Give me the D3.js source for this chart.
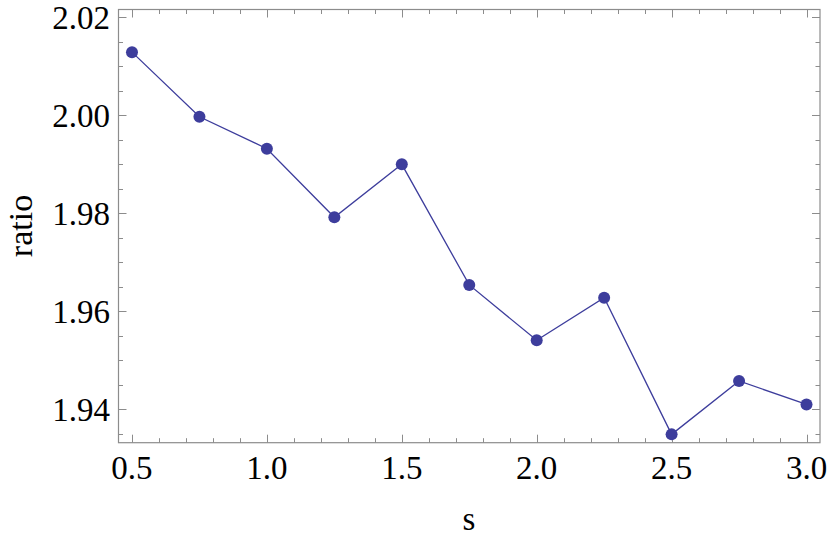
<!DOCTYPE html>
<html>
<head>
<meta charset="utf-8">
<script src="https://cdn.jsdelivr.net/npm/d3@7"></script>
<style>
  body { margin: 0; background: #fff; }
  text { font-family: "Liberation Serif", "Times New Roman", serif; }
</style>
</head>
<body>
<div id="chart"></div>
<script>
// data
const sValues = [0.5, 0.75, 1.0, 1.25, 1.5, 1.75, 2.0, 2.25, 2.5, 2.75, 3.0];
const ratioValues = [2.0129, 1.9997, 1.9932, 1.9792, 1.9900, 1.9654, 1.9541, 1.9628, 1.9349, 1.9458, 1.9410];
const xTicks = [0.5, 1.0, 1.5, 2.0, 2.5, 3.0];
const yTicks = [1.94, 1.96, 1.98, 2.00, 2.02];

const width = 830, height = 537;
const plotLeft = 118.5, plotRight = 820, plotTop = 9.5, plotBottom = 442.7;
const frameColor = "#8c8c8c";
const pointColor = "#3d3d9c";

let x = d3.scaleLinear().domain([0.45, 3.05]).range([plotLeft, plotRight]);
let y = d3.scaleLinear().domain([1.9332, 2.0216]).range([plotBottom, plotTop]);

let svg = d3.select("#chart")
    .append("svg")
    .attr("width", width)
    .attr("height", height);

// minor ticks
let xMinor = d3.range(0.5, 3.0001, 0.1).map(function(d){ return +d.toFixed(2); })
    .filter(function(d){ return xTicks.indexOf(d) < 0; });
let yMajorKeys = yTicks.map(function(t){ return t.toFixed(3); });
let yMinor = d3.range(1.935, 2.0201, 0.005).map(function(d){ return +d.toFixed(3); })
    .filter(function(d){ return yMajorKeys.indexOf(d.toFixed(3)) < 0; });

let ticks = svg.append("g")
    .attr("stroke", frameColor)
    .attr("stroke-width", 1);

function drawXTicks(vals, len) {
  vals.forEach(function(v) {
    let px = Math.round(x(v)) + 0.5;
    ticks.append("line").attr("x1", px).attr("x2", px).attr("y1", plotBottom).attr("y2", plotBottom - len);
    ticks.append("line").attr("x1", px).attr("x2", px).attr("y1", plotTop).attr("y2", plotTop + len);
  });
}
function drawYTicks(vals, len) {
  vals.forEach(function(v) {
    let py = Math.round(y(v)) + 0.5;
    ticks.append("line").attr("x1", plotLeft).attr("x2", plotLeft + len).attr("y1", py).attr("y2", py);
    ticks.append("line").attr("x1", plotRight).attr("x2", plotRight - len).attr("y1", py).attr("y2", py);
  });
}
drawXTicks(xTicks, 8);
drawXTicks(xMinor, 4.5);
drawYTicks(yTicks, 8);
drawYTicks(yMinor, 4.5);

// frame
svg.append("rect")
    .attr("x", plotLeft)
    .attr("y", plotTop)
    .attr("width", plotRight - plotLeft)
    .attr("height", plotBottom - plotTop)
    .attr("fill", "none")
    .attr("stroke", frameColor)
    .attr("stroke-width", 1.2);

// tick labels
svg.append("g")
    .selectAll("text")
    .data(xTicks)
    .enter()
    .append("text")
    .attr("x", function(d){ return x(d); })
    .attr("y", 479)
    .attr("text-anchor", "middle")
    .attr("font-size", 33)
    .attr("fill", "#000")
    .text(function(d){ return d3.format(".1f")(d); });

svg.append("g")
    .selectAll("text")
    .data(yTicks)
    .enter()
    .append("text")
    .attr("x", 110)
    .attr("y", function(d){ return y(d) + 11.5; })
    .attr("text-anchor", "end")
    .attr("font-size", 33)
    .attr("fill", "#000")
    .text(function(d){ return d3.format(".2f")(d); });

// axis labels
svg.append("text")
    .attr("x", 469)
    .attr("y", 530)
    .attr("text-anchor", "middle")
    .attr("font-size", 33)
    .text("s");

svg.append("text")
    .attr("transform", "translate(32,226) rotate(-90)")
    .attr("text-anchor", "middle")
    .attr("font-size", 34)
    .text("ratio");

// series
let pts = sValues.map(function(s, i){ return [s, ratioValues[i]]; });

svg.append("path")
    .datum(pts)
    .attr("fill", "none")
    .attr("stroke", pointColor)
    .attr("stroke-width", 1.3)
    .attr("d", d3.line()
        .x(function(d){ return x(d[0]); })
        .y(function(d){ return y(d[1]); }));

svg.append("g")
    .selectAll("circle")
    .data(pts)
    .enter()
    .append("circle")
    .attr("cx", function(d){ return x(d[0]); })
    .attr("cy", function(d){ return y(d[1]); })
    .attr("r", 6)
    .attr("fill", pointColor);
</script>
</body>
</html>
